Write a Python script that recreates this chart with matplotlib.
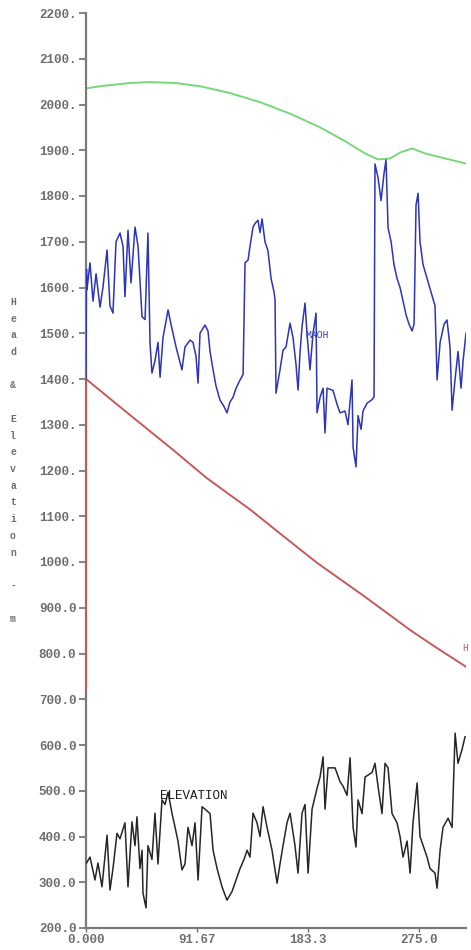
import matplotlib
matplotlib.use("Agg")
import matplotlib.pyplot as plt
from matplotlib.ticker import FixedLocator, FixedFormatter

# ---- profile data (distance along line vs. head / elevation, m) ----
green_x = [0, 0, 11.6, 36.4, 52.9, 73.6, 94.2, 119.0, 143.8, 168.6, 193.4,
           214.0, 230.6, 241.3, 251.2, 259.5, 269.4, 280.2, 296.7, 314.0]
green_y = [530, 2035, 2040, 2047, 2049, 2047, 2040, 2025, 2005, 1980, 1950,
           1920, 1893, 1880, 1882, 1895, 1904, 1893, 1882, 1871]

head_x = [0, 0, 36, 72, 100, 136, 160, 191, 230, 268, 290, 314]
head_y = [720, 1400, 1322, 1245, 1183, 1114, 1063, 998, 925, 851, 812, 771]

maoh_x = [0, 0.4, 0.8, 3.3, 5.8, 8.3, 11.6, 14.0, 17.4, 19.8, 22.3, 24.8, 28.1,
          30.6, 32.2, 34.7, 37.2, 40.5, 43.0, 46.3, 48.8, 51.2, 52.9, 54.5,
          57.0, 59.5, 61.2, 63.6, 67.8, 70.2, 71.9, 74.4, 79.3, 81.8, 86.0,
          88.4, 90.9, 92.6, 94.2, 98.3, 100.8, 102.5, 105.0, 107.4, 110.7,
          114.0, 116.5, 119.0, 121.5, 124.0, 127.3, 129.8, 131.4, 133.9, 135.5,
          138.0, 139.7, 142.1, 143.8, 145.5, 147.9, 150.4, 152.9, 155.4, 156.2,
          157.0, 160.3, 162.8, 165.3, 168.6, 171.1, 173.6, 175.2, 176.9, 178.5,
          181.0, 182.6, 185.1, 187.6, 190.1, 190.9, 193.4, 195.9, 197.5, 199.2,
          204.1, 207.4, 209.9, 214.0, 216.5, 219.8, 220.7, 223.1, 224.8, 227.3,
          228.9, 232.2, 236.4, 238.0, 238.8, 241.3, 243.8, 246.3, 247.9, 249.6,
          252.1, 254.5, 257.0, 259.5, 262.0, 264.5, 266.9, 269.4, 271.1, 272.7,
          274.4, 276.0, 278.5, 281.8, 285.1, 288.4, 290.1, 292.6, 295.9, 298.3,
          300.8, 302.5, 305.0, 307.4, 309.9, 311.6, 314.0]
maoh_y = [1400, 1640, 1595, 1654, 1570, 1630, 1557, 1600, 1682, 1560, 1544,
          1700, 1719, 1690, 1580, 1725, 1610, 1732, 1690, 1536, 1530, 1719,
          1479, 1413, 1440, 1480, 1404, 1490, 1551, 1520, 1500, 1470, 1420,
          1470, 1485, 1480, 1450, 1391, 1500, 1518, 1505, 1460, 1420, 1385,
          1354, 1340, 1326, 1350, 1360, 1380, 1398, 1410, 1654, 1660, 1690,
          1732, 1740, 1747, 1720, 1750, 1700, 1680, 1620, 1590, 1573, 1369,
          1420, 1463, 1470, 1522, 1490, 1430, 1376, 1460, 1514, 1566, 1500,
          1420, 1500, 1544, 1326, 1360, 1380, 1282, 1380, 1375, 1345, 1326,
          1330, 1300, 1398, 1251, 1208, 1320, 1290, 1330, 1347, 1355, 1361,
          1870, 1840, 1790, 1850, 1879, 1730, 1700, 1650, 1620, 1600, 1570,
          1540, 1520, 1505, 1520, 1780, 1806, 1700, 1650, 1620, 1590, 1560,
          1398, 1480, 1520, 1529, 1470, 1332, 1400, 1460, 1380, 1440, 1500]

elev_x = [0.4, 3.3, 7.4, 9.9, 13.2, 17.4, 19.8, 22.3, 25.6, 28.1, 32.2, 34.7,
          38.0, 40.5, 42.1, 44.6, 46.3, 47.1, 49.6, 51.2, 54.5, 57.0, 59.5,
          62.8, 65.3, 67.8, 71.1, 73.6, 76.0, 79.3, 81.8, 84.3, 87.6, 90.1,
          92.6, 95.9, 98.3, 102.5, 105.0, 108.3, 112.4, 116.5, 120.7, 124.8,
          127.3, 130.6, 133.1, 135.5, 138.0, 141.3, 143.8, 146.3, 149.6, 153.7,
          157.9, 160.3, 162.8, 166.1, 168.6, 172.7, 175.2, 178.5, 181.0, 183.5,
          186.8, 190.9, 193.4, 195.9, 197.5, 200.0, 205.8, 209.9, 212.4, 215.7,
          218.2, 220.7, 223.1, 224.8, 228.1, 230.6, 236.4, 238.8, 241.3, 244.6,
          247.1, 249.6, 252.9, 257.0, 259.5, 262.0, 265.3, 267.8, 270.2, 273.6,
          276.0, 281.8, 284.3, 288.4, 290.1, 292.6, 295.0, 299.2, 302.5, 305.0,
          307.4, 310.7, 313.2]
elev_y = [342, 355, 305, 342, 290, 403, 283, 330, 407, 395, 430, 290,
          432, 380, 443, 330, 370, 276, 244, 380, 350, 451, 340,
          480, 470, 497, 450, 420, 390, 327, 340, 420, 380, 430,
          305, 465, 460, 450, 370, 330, 290, 261, 280, 311,
          330, 350, 370, 355, 451, 430, 400, 465, 420, 370,
          298, 340, 380, 430, 451, 380, 320, 451, 470, 320,
          460, 505, 530, 574, 460, 550, 550, 520, 510, 490,
          572, 420, 377, 480, 450, 530, 540, 560, 510, 450,
          560, 550, 450, 430, 400, 355, 390, 320, 430, 517,
          400, 355, 330, 320, 287, 370, 420, 440, 420, 626,
          560, 590, 618]

x_ticks = [0.0, 91.67, 183.33, 275.0]
x_tick_labels = ["0.000", "91.67", "183.3", "275.0"]
y_ticks = list(range(200, 2201, 100))
y_tick_labels = [f"{v}." if v >= 1000 else f"{v}.0" for v in y_ticks]

axis_label = "Head & Elevation - m"

# ---- figure ----
W, H = 471, 950
fig = plt.figure(figsize=(W / 100, H / 100), dpi=100)
fig.patch.set_facecolor("white")
ax = fig.add_axes([86 / W, 22 / H, (466 - 86) / W, (928 - 13) / H])
ax.set_facecolor("white")

mono = ["Liberation Mono", "DejaVu Sans Mono"]
grey = "#6e6e6e"

ax.plot(green_x, green_y, color="#78d878", lw=1.4, zorder=2)
ax.plot(head_x, head_y, color="#c65a5a", lw=1.4, zorder=3)
ax.plot(maoh_x, maoh_y, color="#2c34b8", lw=1.1, zorder=4)
ax.plot(elev_x, elev_y, color="#262626", lw=1.1, zorder=5)

ax.text(181, 1496, "MAOH", color="#3a40b0", fontsize=7, family=mono,
        va="center", ha="left", zorder=6)
ax.text(311, 812, "H", color="#c65a5a", fontsize=7, family=mono,
        va="center", ha="left", zorder=6)
ax.text(61, 489, "ELEVATION", color="#1a1a1a", fontsize=9, family=mono,
        va="center", ha="left", zorder=6)

ax.set_xlim(0, 314)
ax.set_ylim(200, 2200)

for side in ("top", "right"):
    ax.spines[side].set_visible(False)
for side in ("left", "bottom"):
    ax.spines[side].set_color("#7a7a7a")
    ax.spines[side].set_linewidth(1.6)

ax.xaxis.set_major_locator(FixedLocator(x_ticks))
ax.xaxis.set_major_formatter(FixedFormatter(x_tick_labels))
ax.yaxis.set_major_locator(FixedLocator(y_ticks))
ax.yaxis.set_major_formatter(FixedFormatter(y_tick_labels))
ax.tick_params(axis="y", direction="out", length=5, width=1.2, color=grey,
               labelcolor=grey, labelsize=9, pad=2)
ax.tick_params(axis="x", direction="out", length=3, width=1.0, color=grey,
               labelcolor=grey, labelsize=9, pad=1)
for lab in ax.get_xticklabels() + ax.get_yticklabels():
    lab.set_family(mono)
    lab.set_fontweight("bold")

# stacked vertical axis title, one character per line
for i, ch in enumerate(axis_label):
    if ch == " ":
        continue
    fig.text(13 / W, 1 - (302 + i * 16.7) / H, ch, color=grey, fontsize=7,
             family=mono, fontweight="bold", ha="center", va="center")

fig.savefig("out.png", dpi=100, facecolor="white")
